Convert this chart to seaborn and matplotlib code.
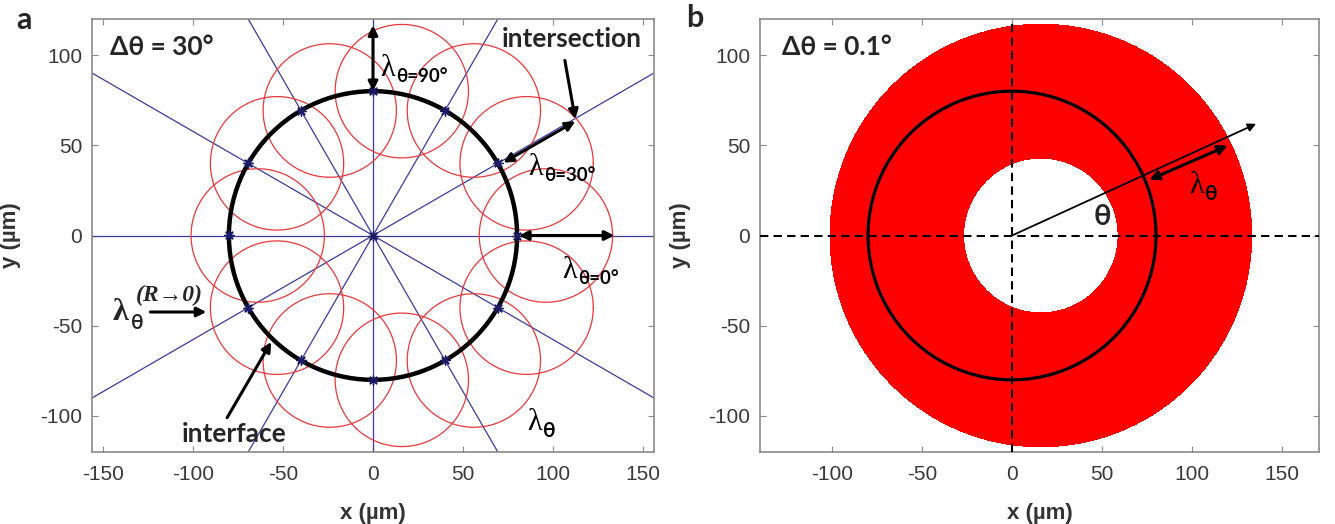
import numpy as np
import matplotlib
matplotlib.use("Agg")
import matplotlib.pyplot as plt
from matplotlib.collections import LineCollection
import seaborn as sns

# ---------------- data ----------------
R_INTERFACE = 80.0          # interface circle radius (um)
LAMBDA_R = 37.0             # radius of the lambda circles (um)
DRIFT_X = 16.0              # x offset of the lambda-circle centres (um)
THETA_A_DEG = [0, 30, 60, 90, 120, 150, 180, 210, 240, 270, 300, 330]
RAY_ANGLES_DEG = [0, 30, 60, 90, 120, 150]
DTHETA_B_DEG = 0.1
XTICKS_A = [-150, -100, -50, 0, 50, 100, 150]
XTICKS_B = [-100, -50, 0, 50, 100, 150]
YTICKS = [-100, -50, 0, 50, 100]
XLIM_A = (-156, 156)
XLIM_B = (-140, 170.5)
YLIM = (-120, 120)

sns.set_theme(style="white")
plt.rcParams["font.family"] = ["Liberation Sans", "DejaVu Sans"]

ANN = ["Lato", "DejaVu Sans"]
SERIF = ["Liberation Serif", "DejaVu Serif"]
TICKC = "#3a3a3a"
SPC = "#8a8a8a"

fig = plt.figure(figsize=(13.35, 5.24), dpi=100)
H = 524.0
W = 1335.0
ax1 = fig.add_axes([92 / W, (H - 452) / H, 562 / W, 433 / H])
ax2 = fig.add_axes([760 / W, (H - 452) / H, 559 / W, 433 / H])

phi = np.linspace(0, 2 * np.pi, 241)


def style_axes(ax, xlim, xticks):
    ax.set_xlim(*xlim)
    ax.set_ylim(*YLIM)
    ax.set_xticks(xticks)
    ax.set_yticks(YTICKS)
    ax.set_xticklabels([str(t) for t in xticks])
    ax.set_yticklabels([str(t) for t in YTICKS])
    for s in ax.spines.values():
        s.set_visible(True)
        s.set_color(SPC)
        s.set_linewidth(1.2)
    ax.tick_params(direction="in", length=4, width=0.8, color=SPC,
                   top=True, right=True, bottom=True, left=True,
                   labelsize=15, labelcolor=TICKC)
    ax.tick_params(axis="x", pad=9)
    ax.tick_params(axis="y", pad=7)
    ax.set_xlabel("x (µm)", fontsize=16, fontweight="bold", color="#333333")
    ax.set_ylabel("y (µm)", fontsize=16, fontweight="bold", color="#333333")
    ax.xaxis.set_label_coords(0.5, -0.118)
    ax.set_facecolor("white")


def lam(ax, x, y, sub, size=22, subsize=13.5, dx=8.8, dy=-4.5):
    ax.text(x, y, "λ", fontsize=size, family=SERIF, ha="left", va="center",
            color="black", zorder=10)
    ax.text(x + dx, y + dy, sub, fontsize=subsize, family=ANN, fontweight="bold",
            ha="left", va="center", color="black", zorder=10)


def arrow(ax, p0, p1, style="<|-|>", lw=2.2, ms=14):
    ax.annotate("", xy=p1, xytext=p0,
                arrowprops=dict(arrowstyle=style, lw=lw, color="black",
                                mutation_scale=ms, shrinkA=0, shrinkB=0),
                zorder=12)


# ---------------- panel a ----------------
for a in RAY_ANGLES_DEG:
    t = np.deg2rad(a)
    ax1.plot([-300 * np.cos(t), 300 * np.cos(t)], [-300 * np.sin(t), 300 * np.sin(t)],
             color="#3b3b9e", lw=0.9, zorder=2)

for a in THETA_A_DEG:
    t = np.deg2rad(a)
    cx = R_INTERFACE * np.cos(t) + DRIFT_X
    cy = R_INTERFACE * np.sin(t)
    ax1.plot(cx + LAMBDA_R * np.cos(phi), cy + LAMBDA_R * np.sin(phi),
             color="#e8393b", lw=0.9, zorder=3)

sns.lineplot(x=R_INTERFACE * np.cos(phi), y=R_INTERFACE * np.sin(phi), ax=ax1,
             sort=False, estimator=None, color="black", lw=3.2, zorder=5)

ta = np.deg2rad(np.array(THETA_A_DEG, dtype=float))
px = np.concatenate([R_INTERFACE * np.cos(ta), [0.0]])
py = np.concatenate([R_INTERFACE * np.sin(ta), [0.0]])
ax1.scatter(px, py, marker=(8, 2, 0), s=45, color="#1c1c66", lw=1.0, zorder=6)

style_axes(ax1, XLIM_A, XTICKS_A)
ax1.yaxis.set_label_coords(-0.126, 0.5)

ax1.text(-146, 104.6, "Δθ = 30°", fontsize=19, family=ANN, fontweight="bold",
         ha="left", va="center", zorder=10)
ax1.text(110.5, 109, "intersection", fontsize=19, family=ANN, fontweight="bold",
         ha="center", va="center", zorder=10)
ax1.text(-77, -110, "interface", fontsize=19, family=ANN, fontweight="bold",
         ha="center", va="center", zorder=10)

arrow(ax1, (0, 80), (0, 116.5))
arrow(ax1, (81, 0), (134, 0))
arrow(ax1, (72.4, 40.4), (112.3, 63.3))
arrow(ax1, (106.5, 97.1), (112.3, 64.5), style="-|>")
arrow(ax1, (-81, -101), (-56.5, -59), style="-|>")
arrow(ax1, (-123.6, -42.4), (-92.5, -42.4), style="-|>", lw=2.2)

lam(ax1, 3.8, 92.5, "θ=90°")
lam(ax1, 86.2, 37.8, "θ=30°")
lam(ax1, 104.8, -19.6, "θ=0°")
lam(ax1, 85.4, -103.9, "θ", subsize=15)
ax1.text(-144.5, -42.8, "λ", fontsize=23, family=SERIF, fontweight="bold",
         ha="left", va="center", zorder=10)
ax1.text(-134.5, -48.5, "θ", fontsize=15, family=ANN, fontweight="bold",
         ha="left", va="center", zorder=10)
ax1.text(-131.5, -33.5, "(R→0)", fontsize=17, family=SERIF, fontweight="bold",
         fontstyle="italic", ha="left", va="center", zorder=10)

# ---------------- panel b ----------------
tb = np.deg2rad(np.arange(0, 360, DTHETA_B_DEG))
segs = []
for t in tb:
    cx = R_INTERFACE * np.cos(t) + DRIFT_X
    cy = R_INTERFACE * np.sin(t)
    segs.append(np.column_stack([cx + LAMBDA_R * np.cos(phi), cy + LAMBDA_R * np.sin(phi)]))
lc = LineCollection(segs, colors="#ff0000", linewidths=0.25, antialiaseds=False,
                    zorder=2)
ax2.add_collection(lc)

sns.lineplot(x=R_INTERFACE * np.cos(phi), y=R_INTERFACE * np.sin(phi), ax=ax2,
             sort=False, estimator=None, color="black", lw=2.3, zorder=5)
ax2.axhline(0, color="black", lw=1.5, ls=(0, (4, 2.5)), zorder=6)
ax2.axvline(0, color="black", lw=1.5, ls=(0, (4, 2.5)), zorder=6)

style_axes(ax2, XLIM_B, XTICKS_B)
ax2.yaxis.set_label_coords(-0.123, 0.5)

ax2.text(-127.6, 104.6, "Δθ = 0.1°", fontsize=19, family=ANN, fontweight="bold",
         ha="left", va="center", zorder=10)
arrow(ax2, (0, 0), (135.6, 61.9), style="-|>", lw=1.3, ms=12)
arrow(ax2, (76.3, 30.9), (119.8, 49.8))
lam(ax2, 98.2, 27.6, "θ", subsize=15)
ax2.text(50, 10.5, "θ", fontsize=21, family=ANN, fontweight="bold",
         ha="center", va="center", zorder=10)

fig.text(23.5 / W, 1 - 20 / H, "a", fontsize=22, family=ANN, fontweight="bold",
         ha="center", va="center")
fig.text(695 / W, 1 - 18 / H, "b", fontsize=22, family=ANN, fontweight="bold",
         ha="center", va="center")

fig.savefig("out.png", dpi=100, facecolor="white")
